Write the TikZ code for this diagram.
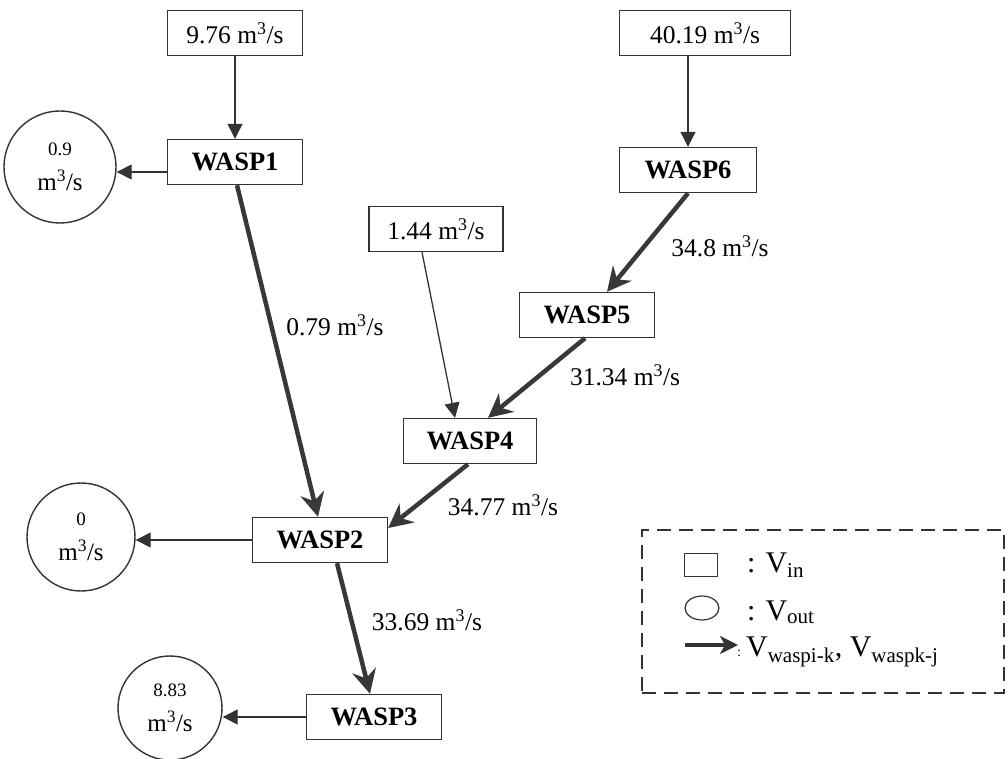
\documentclass[tikz,border=0pt]{standalone}
\usepackage{fontspec}
\setmainfont{Liberation Serif}
\usetikzlibrary{arrows.meta,calc}
\begin{document}
\begin{tikzpicture}[x=1pt,y=-1pt,
 box/.style={draw=black!80,line width=1.4pt,minimum width=135pt,minimum height=45pt,inner sep=0pt,font=\fontsize{25.5}{27}\selectfont},
 wasp/.style={box,font=\fontsize{26.5}{28}\selectfont\bfseries},
 outc/.style={circle,draw=black!80,line width=1.4pt,inner sep=0pt,align=center,font=\fontsize{25}{30}\selectfont},
 inarrow/.style={draw=black!80,line width=1.3pt,-{Triangle[length=15pt,width=15pt]}},
 flow/.style={draw=black!78,line width=4.5pt,-{Stealth[length=24pt,width=24pt,inset=8pt]}},
 lbl/.style={font=\fontsize{25.5}{27}\selectfont},
 leg/.style={font=\fontsize{30}{32}\selectfont,inner sep=0pt}
]
\useasboundingbox (0,0) rectangle (1008,759);

% input boxes
\node[box] (b976) at (235,33) {9.76 m\textsuperscript{3}/s};
\node[box,minimum width=171pt] (b4019) at (705,33) {40.19 m\textsuperscript{3}/s};
\node[box,minimum width=134pt] (b144) at (436,229) {1.44 m\textsuperscript{3}/s};

% WASP boxes
\node[wasp] (W1) at (235,162) {WASP1};
\node[wasp,minimum width=137pt] (W6) at (688,170) {WASP6};
\node[wasp] (W5) at (587,315) {WASP5};
\node[wasp,minimum width=133pt] (W4) at (470,441) {WASP4};
\node[wasp] (W2) at (320,540) {WASP2};
\node[wasp] (W3) at (374,717) {WASP3};

% output circles
\node[outc,minimum size=112pt] (c09) at (60,167) {{\fontsize{19}{20}\selectfont 0.9}\\[5pt]m\textsuperscript{3}/s};
\node[outc,minimum size=108pt] (c0) at (81,537) {{\fontsize{19}{20}\selectfont 0}\\[5pt]m\textsuperscript{3}/s};
\node[outc,minimum size=104pt] (c883) at (170,708) {{\fontsize{19}{20}\selectfont 8.83}\\[5pt]m\textsuperscript{3}/s};

% inflow arrows
\draw[inarrow] (b976.south) -- (W1.north);
\draw[inarrow] (W6.north |- b4019.south) -- (W6.north);
\draw[inarrow] ($(b144.south)+(-14,0)$) -- ($(W4.north)+(-15,0)$);

% outflow arrows
\draw[inarrow] ($(W1.west)+(0,10)$) coordinate (a1) -- (a1 -| c09.east);
\draw[inarrow] (W2.west) -- (W2.west -| c0.east);
\draw[inarrow] (W3.west) -- (W3.west -| c883.east);

% flows between segments
\draw[flow] ($(W1.south)+(2,0)$) -- ($(W2.north)+(-2,0)$);
\draw[flow] (W6.south) -- ($(W5.north)+(20,0)$);
\draw[flow] ($(W5.south)+(-2,0)$) -- ($(W4.north)+(18,0)$);
\draw[flow] ($(W4.south)+(-2,0)$) -- ($(W2.east)+(0,-12)$);
\draw[flow] ($(W2.south)+(17,0)$) -- ($(W3.north)+(-4,0)$);

% flow labels
\node[lbl] (l079) at (335,325) {0.79 m\textsuperscript{3}/s};
\node[lbl] (l348) at (720,246) {34.8 m\textsuperscript{3}/s};
\node[lbl] (l3134) at (625,375) {31.34 m\textsuperscript{3}/s};
\node[lbl] (l3477) at (503,505) {34.77 m\textsuperscript{3}/s};
\node[lbl] (l3369) at (427,620) {33.69 m\textsuperscript{3}/s};

% legend
\node[draw=black!80,line width=1.5pt,dash pattern=on 14pt off 8pt,minimum width=362pt,minimum height=163pt,inner sep=0pt] (legend) at (823,611.5) {};
\node[draw=black!80,line width=1.2pt,minimum width=33pt,minimum height=23pt,inner sep=0pt] (lsq) at (701,565) {};
\draw[draw=black!80,line width=1.2pt] (702,608) ellipse (17 and 12);
\coordinate (la) at (685,645);
\coordinate (lb) at (738,645);
\draw[draw=black!80,line width=3.5pt,-{Stealth[length=18pt,width=18pt,inset=5pt]}] (la) -- (lb);
\node[leg,anchor=base west] (t1) at (747,572) {: V\textsubscript{in}};
\node[leg,anchor=base west] (t2) at (747,620) {: V\textsubscript{out}};
\node[leg,anchor=base west] (t3) at (737,656) {{\fontsize{14}{14}\selectfont :}\,V\textsubscript{waspi-k}, V\textsubscript{waspk-j}};
\end{tikzpicture}
\end{document}
